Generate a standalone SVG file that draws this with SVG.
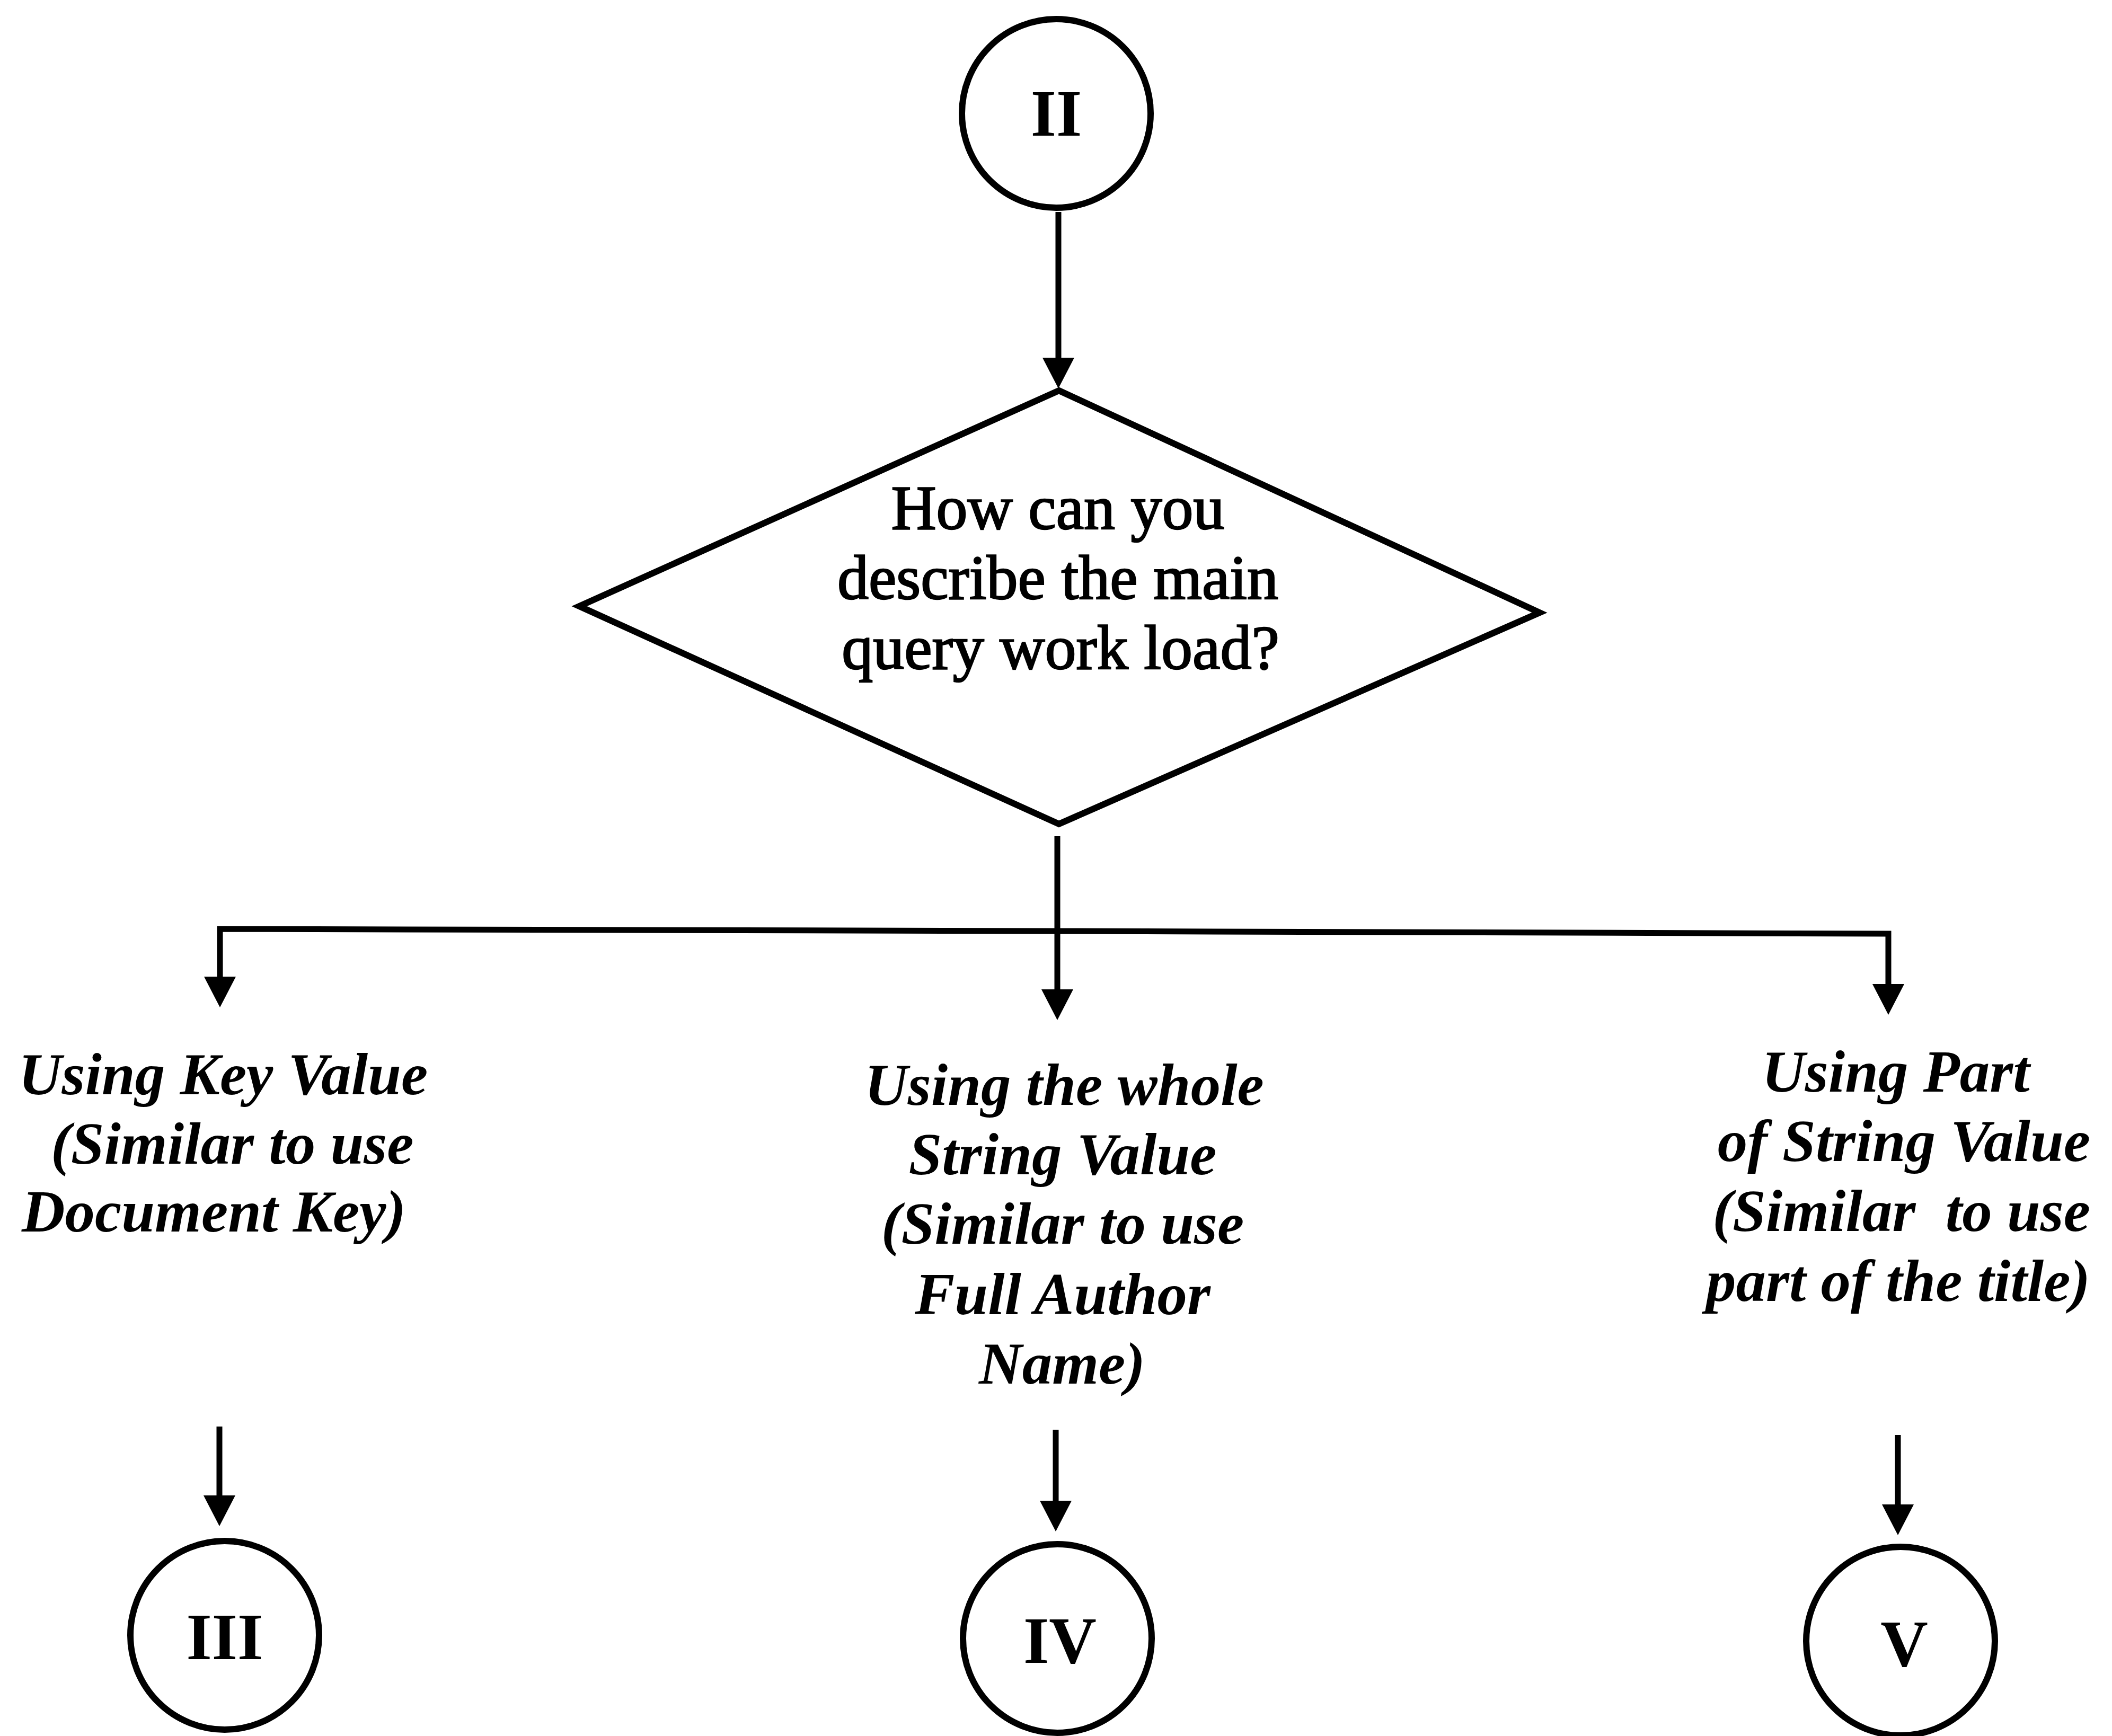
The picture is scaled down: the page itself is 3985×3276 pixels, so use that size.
<svg xmlns="http://www.w3.org/2000/svg" width="3985" height="3276" viewBox="0 0 3985 3276">
  <style>
    .bg { fill: #ffffff; }
    .shape { fill: #ffffff; stroke: #000000; stroke-width: 12; stroke-linejoin: miter; }
    .wire { fill: none; stroke: #000000; stroke-width: 11; stroke-linejoin: miter; }
    .num { font-family: "Liberation Serif", "Times New Roman", serif; font-weight: bold; font-size: 124px; fill: #000000; text-anchor: middle; }
    .q { font-family: "Liberation Serif", "Times New Roman", serif; font-size: 118px; fill: #000000; stroke: #000000; stroke-width: 2.5; text-anchor: middle; }
    .opt { font-family: "Liberation Serif", "Times New Roman", serif; font-weight: bold; font-style: italic; font-size: 113px; fill: #000000; }
  </style>
  <defs>
    <marker id="head" markerUnits="userSpaceOnUse" markerWidth="60" markerHeight="60" refX="0" refY="30" orient="auto" viewBox="0 0 60 60">
      <path d="M0,0 L58,30 L0,60 Z" fill="#000000"/>
    </marker>
  </defs>

  <rect class="bg" x="0" y="0" width="3985" height="3276"/>

  <!-- connectors -->
  <g id="connectors">
    <path class="wire" d="M1997,400 V675" marker-end="url(#head)"/>
    <path class="wire" d="M1995,1578 V1867" marker-end="url(#head)"/>
    <path class="wire" d="M1995,1757 L415,1753 V1843" marker-end="url(#head)"/>
    <path class="wire" d="M1995,1757 L3563,1762 V1857" marker-end="url(#head)"/>
    <path class="wire" d="M414,2692 V2822" marker-end="url(#head)"/>
    <path class="wire" d="M1992,2698 V2832" marker-end="url(#head)"/>
    <path class="wire" d="M3581,2708 V2839" marker-end="url(#head)"/>
  </g>

  <!-- entry connector -->
  <g id="node-ii">
    <circle class="shape" cx="1993" cy="214" r="178"/>
    <text class="num" x="1993" y="256">II</text>
  </g>

  <!-- decision -->
  <g id="node-decision">
    <polygon class="shape" points="1998,737 2905,1156 1998,1555 1093,1144"/>
    <text class="q" x="1996" y="998">How can you</text>
    <text class="q" x="1996" y="1130">describe the main</text>
    <text class="q" x="2001" y="1262">query work load?</text>
  </g>

  <!-- option: key value -->
  <g id="opt-key">
    <text class="opt" x="35" y="2065">Using Key Value</text>
    <text class="opt" x="96" y="2196">(Similar to use</text>
    <text class="opt" x="41" y="2324">Document Key)</text>
  </g>

  <!-- option: whole string -->
  <g id="opt-whole">
    <text class="opt" text-anchor="middle" x="2008" y="2085">Using the whole</text>
    <text class="opt" text-anchor="middle" x="2005" y="2216">String Value</text>
    <text class="opt" text-anchor="middle" x="2005" y="2347">(Similar to use</text>
    <text class="opt" text-anchor="middle" x="2005" y="2480">Full Author</text>
    <text class="opt" text-anchor="middle" x="2004" y="2611">Name)</text>
  </g>

  <!-- option: part of string -->
  <g id="opt-part">
    <text class="opt" text-anchor="middle" x="3577" y="2060">Using Part</text>
    <text class="opt" text-anchor="end" x="3944" y="2191">of String Value</text>
    <text class="opt" text-anchor="end" x="3944" y="2323" xml:space="preserve">(Similar  to use</text>
    <text class="opt" text-anchor="end" x="3944" y="2455">part of the title)</text>
  </g>

  <!-- exit connectors -->
  <g id="node-iii">
    <circle class="shape" cx="424" cy="3086" r="178"/>
    <text class="num" x="424" y="3131">III</text>
  </g>
  <g id="node-iv">
    <circle class="shape" cx="1995" cy="3092" r="178"/>
    <text class="num" x="2000" y="3138">IV</text>
  </g>
  <g id="node-v">
    <circle class="shape" cx="3586" cy="3097" r="178"/>
    <text class="num" x="3593" y="3144">V</text>
  </g>
</svg>
